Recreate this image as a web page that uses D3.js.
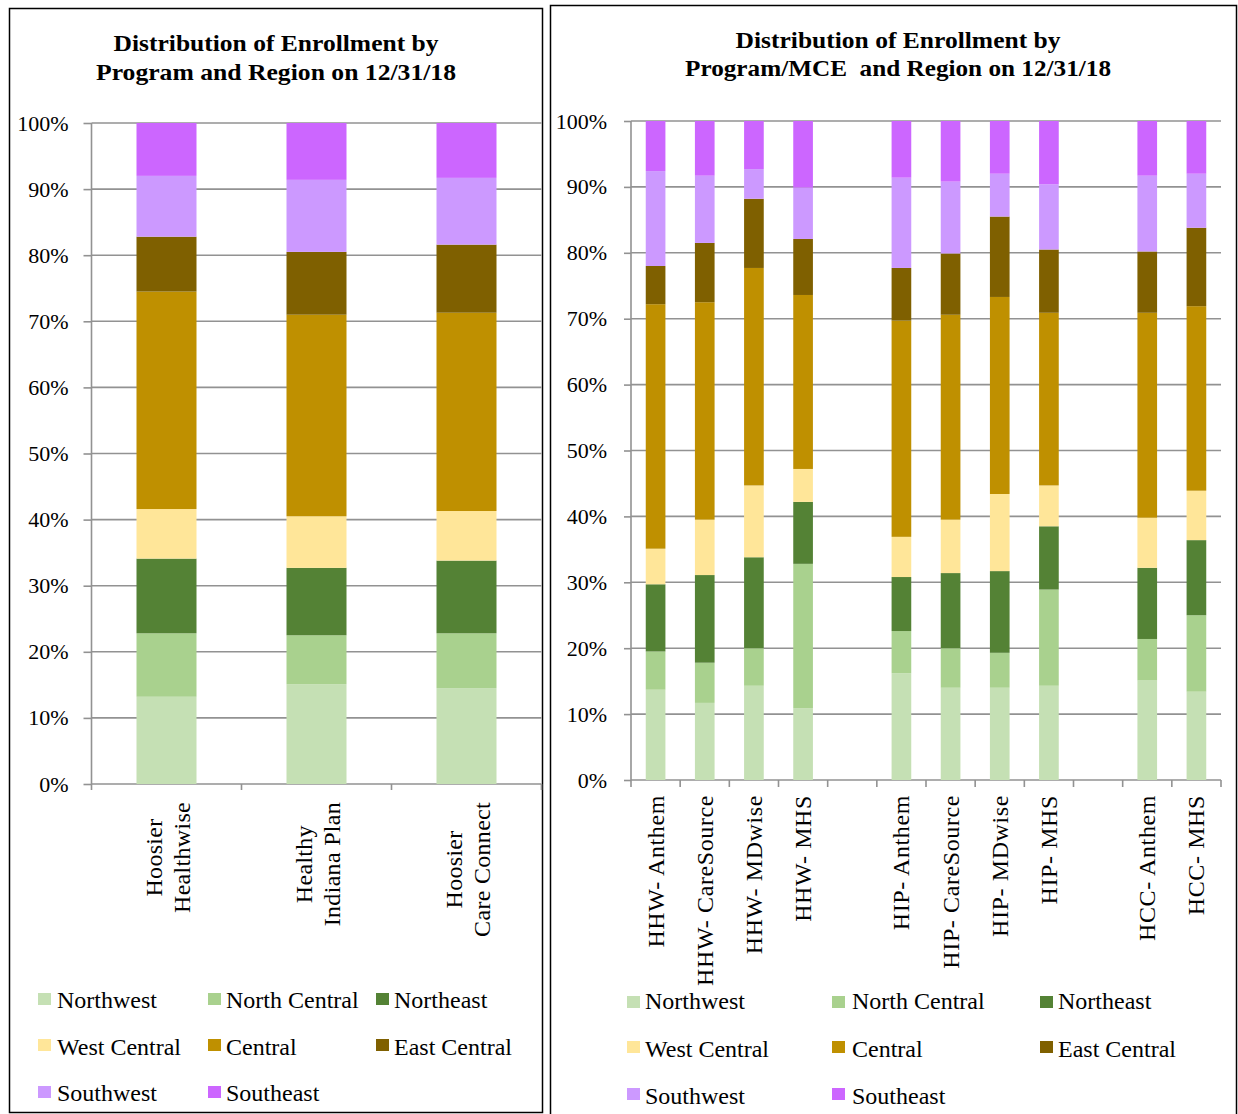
<!DOCTYPE html>
<html><head><meta charset="utf-8">
<script src="https://cdn.jsdelivr.net/npm/d3@7"></script>
<style>
html,body{margin:0;padding:0;background:#fff;}
svg text{font-family:"Liberation Serif","Times New Roman",serif;fill:#000;}
</style></head>
<body>
<svg id="chart" width="1238" height="1114"></svg>
<script>
// ---------- data ----------
const regions = ["Northwest","North Central","Northeast","West Central","Central","East Central","Southwest","Southeast"];
const regionColors = ["#C5E0B4","#A9D18E","#548235","#FFE699","#BF9000","#7F6000","#CC99FF","#CC66FF"];

// Left chart: share (%) of each region, in region order
const leftLabels = [["Hoosier","Healthwise"],["Healthy","Indiana Plan"],["Hoosier","Care Connect"]];
const hhwShares = [13.2, 9.6, 11.3, 7.5, 32.9, 8.3, 9.2, 8.0];
const hipShares = [15.1, 7.4, 10.2, 7.8, 30.5, 9.5, 10.9, 8.6];
const hccShares = [14.5, 8.3, 11.0, 7.5, 30.0, 10.3, 10.1, 8.3];
const leftValues = [hhwShares, hipShares, hccShares];

// Right chart: by program / MCE (blank slots are gaps)
const rightLabels = ["HHW- Anthem","HHW- CareSource","HHW- MDwise","HHW- MHS","","HIP- Anthem","HIP- CareSource","HIP- MDwise","HIP- MHS","","HCC- Anthem","HCC- MHS"];
const hhwAnthem     = [13.7, 5.8, 10.2, 5.4, 37.1, 5.8, 14.4, 7.6];
const hhwCareSource = [11.7, 6.1, 13.3, 8.4, 33.0, 9.0, 10.2, 8.3];
const hhwMDwise     = [14.3, 5.7, 13.8, 10.9, 33.0, 10.5, 4.5, 7.3];
const hhwMHS        = [10.9, 21.9, 9.4, 5.0, 26.4, 8.5, 7.8, 10.1];
const hipAnthem     = [16.2, 6.4, 8.2, 6.1, 32.8, 8.0, 13.7, 8.6];
const hipCareSource = [14.0, 6.0, 11.4, 8.1, 31.1, 9.3, 10.9, 9.2];
const hipMDwise     = [14.0, 5.3, 12.4, 11.7, 29.9, 12.2, 6.5, 8.0];
const hipMHS        = [14.3, 14.6, 9.6, 6.2, 26.2, 9.6, 9.9, 9.6];
const hccAnthem     = [15.1, 6.3, 10.8, 7.6, 31.1, 9.3, 11.5, 8.3];
const hccMHS        = [13.4, 11.6, 11.4, 7.5, 28.0, 11.9, 8.2, 8.0];
const rightValues = [hhwAnthem, hhwCareSource, hhwMDwise, hhwMHS, null,
                     hipAnthem, hipCareSource, hipMDwise, hipMHS, null,
                     hccAnthem, hccMHS];

const yTicks = [0,10,20,30,40,50,60,70,80,90,100];

// ---------- drawing ----------
const svg = d3.select("#chart");
const GRID = "#929292";

// panel borders
svg.append("rect").attr("x",9.5).attr("y",8.5).attr("width",533).attr("height",1104)
  .attr("fill","none").attr("stroke","#000").attr("stroke-width",1.5);
svg.append("rect").attr("x",550.5).attr("y",5.5).attr("width",686).attr("height",1110)
  .attr("fill","none").attr("stroke","#000").attr("stroke-width",1.5);

function titleBlock(cx, lines, baselines, widths){
  lines.forEach((t,i)=>{
    svg.append("text").attr("x",cx).attr("y",baselines[i]).attr("text-anchor","middle")
      .attr("font-weight","bold").attr("font-size","23px")
      .attr("textLength",widths[i]).attr("lengthAdjust","spacingAndGlyphs")
      .style("white-space","pre").text(t);
  });
}
titleBlock(276, ["Distribution of Enrollment by","Program and Region on 12/31/18"], [51,80], [325,360]);
titleBlock(898, ["Distribution of Enrollment by","Program/MCE  and Region on 12/31/18"], [48,76], [325,426]);

function drawChart(opt){
  const g = svg.append("g");
  const y = d3.scaleLinear().domain([0,100]).range([opt.y0, opt.y1]);
  const idx = d3.range(opt.values.length);
  const x = d3.scaleBand().domain(idx).range([opt.x0, opt.x1]).padding(0);
  const bw = x.bandwidth()*0.4;

  // gridlines
  g.append("g").selectAll("line").data(yTicks).join("line")
    .attr("x1",opt.x0).attr("x2",opt.x1).attr("y1",d=>y(d)).attr("y2",d=>y(d))
    .attr("stroke",GRID).attr("stroke-width",1.6);

  // y axis
  const ya = g.append("g").attr("transform",`translate(${opt.x0},0)`)
    .call(d3.axisLeft(y).tickValues(yTicks).tickSize(opt.tick).tickPadding(opt.pad).tickFormat(d=>d+"%"));
  ya.select(".domain").remove();
  ya.selectAll(".tick line").attr("stroke",GRID).attr("stroke-width",1.6);
  ya.selectAll(".tick text").attr("font-size","22px").attr("font-family","Liberation Serif, Times New Roman, serif").attr("fill","#000");
  g.append("line").attr("x1",opt.x0).attr("x2",opt.x0).attr("y1",opt.y1).attr("y2",opt.y0+opt.xtick)
    .attr("stroke",GRID).attr("stroke-width",1.6);

  // x ticks at band boundaries
  const bounds = idx.map(i=>x(i)).concat([opt.x1]);
  g.append("g").selectAll("line").data(bounds.slice(1)).join("line")
    .attr("x1",d=>d).attr("x2",d=>d).attr("y1",opt.y0).attr("y2",opt.y0+opt.xtick)
    .attr("stroke",GRID).attr("stroke-width",1.6);

  // stacked bars
  opt.values.forEach((vals,i)=>{
    if(!vals) return;
    let cum = 0;
    vals.forEach((v,r)=>{
      g.append("rect").attr("x",x(i)+(x.bandwidth()-bw)/2).attr("width",bw)
        .attr("y",y(cum+v)).attr("height",y(cum)-y(cum+v))
        .attr("fill",regionColors[r]);
      cum += v;
    });
  });
  return x;
}

const xl = drawChart({values:leftValues, x0:91.5, x1:541.5, y0:784, y1:123, tick:8, pad:15, xtick:6});
const xr = drawChart({values:rightValues, x0:631, x1:1221, y0:780, y1:121, tick:7, pad:17, xtick:7});

// left category labels (two lines, rotated)
leftLabels.forEach((lines,i)=>{
  const cx = xl(i)+xl.bandwidth()/2;
  const t = svg.append("text").attr("font-size","24px").attr("text-anchor","middle")
    .style("letter-spacing","0.3px");
  lines.forEach((ln,k)=>{
    t.append("tspan").attr("x",0).attr("y",k===0?-5:23).text(ln);
  });
  let maxLen = 0;
  t.selectAll("tspan").each(function(){ maxLen = Math.max(maxLen, this.getComputedTextLength()); });
  t.attr("transform",`translate(${cx},${802+maxLen/2}) rotate(-90)`);
});

// right category labels
rightLabels.forEach((lab,i)=>{
  if(!lab) return;
  const cx = xr(i)+xr.bandwidth()/2;
  svg.append("text").attr("font-size","24px").attr("text-anchor","end")
    .style("letter-spacing","0.6px")
    .attr("transform",`translate(${cx+8},795) rotate(-90)`).text(lab);
});

// legends
function legend(colX, textX, sqY, baseY, sqW, sqH){
  regions.forEach((r,i)=>{
    const row = Math.floor(i/3), col = i%3;
    svg.append("rect").attr("x",colX[col]).attr("y",sqY[row]).attr("width",sqW).attr("height",sqH)
      .attr("fill",regionColors[i]);
    svg.append("text").attr("x",textX[col]).attr("y",baseY[row]).attr("font-size","24px").text(r);
  });
}
legend([38,208,376],[57,226,394],[993,1039,1086],[1008,1055,1101],13,12);
legend([627,832,1040],[645,852,1058],[996,1041,1088],[1009,1057,1104],13,12);
</script>
</body></html>
